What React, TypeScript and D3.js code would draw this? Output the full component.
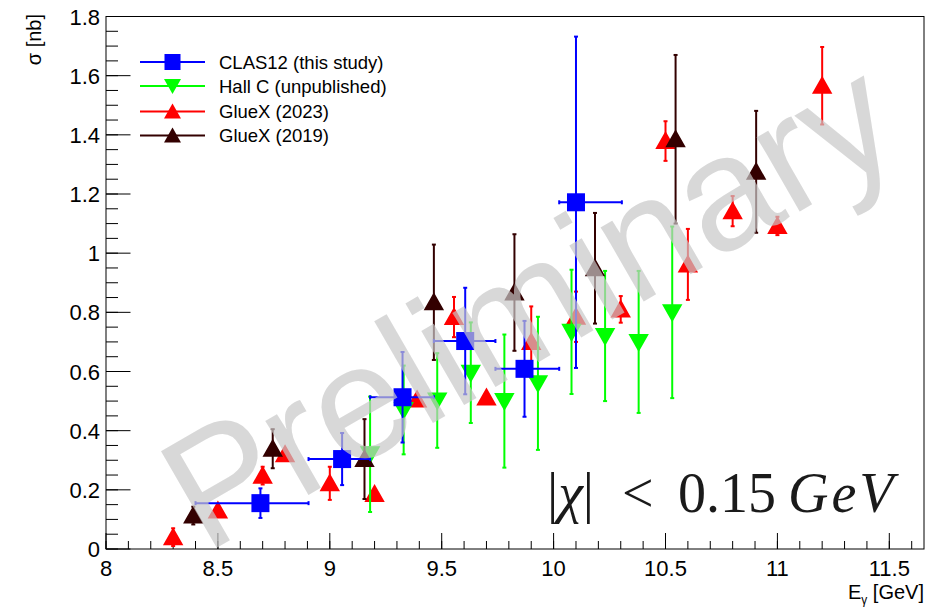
import React from "react";
import * as d3 from "d3";

// CLAS12 (this study) - bins with horizontal extent
const clasX = [8.69, 9.055, 9.325, 9.605, 9.87, 10.1];
const clasY = [0.155, 0.304, 0.513, 0.703, 0.609, 1.172];
const clasErr = [0.05, 0.088, 0.153, 0.18, 0.162, 0.56];
const clasXLo = [8.4, 8.905, 9.18, 9.465, 9.74, 10.025];
const clasXHi = [8.905, 9.18, 9.465, 9.74, 10.025, 10.305];

// Hall C (unpublished)
const hallCX = [9.18, 9.33, 9.48, 9.63, 9.78, 9.93, 10.08, 10.23, 10.38, 10.53];
const hallCY = [0.32, 0.47, 0.502, 0.596, 0.5, 0.56, 0.734, 0.72, 0.7, 0.8];
const hallCErr = [0.195, 0.15, 0.16, 0.17, 0.225, 0.225, 0.21, 0.22, 0.24, 0.29];

// GlueX (2023)
const gluex23X = [8.3, 8.5, 8.7, 8.8, 9.0, 9.2, 9.39, 9.555, 9.7, 9.9, 10.1, 10.3, 10.5, 10.6, 10.8, 11.0, 11.2];
const gluex23Y = [0.04, 0.13, 0.248, 0.32, 0.222, 0.186, 0.505, 0.784, 0.512, 0.7, 0.785, 0.81, 1.379, 0.962, 1.142, 1.092, 1.566];
const gluex23Err = [0.03, 0.0, 0.03, 0.0, 0.056, 0.0, 0.0, 0.068, 0.0, 0.12, 0.085, 0.045, 0.067, 0.12, 0.051, 0.031, 0.131];

// GlueX (2019)
const gluex19X = [8.39, 8.745, 9.155, 9.465, 9.825, 10.185, 10.545, 10.905];
const gluex19Y = [0.113, 0.339, 0.304, 0.834, 0.867, 0.949, 1.385, 1.275];
const gluex19Err = [0.03, 0.066, 0.135, 0.195, 0.197, 0.187, 0.285, 0.206];

const xTickLabels = ["8", "8.5", "9", "9.5", "10", "10.5", "11", "11.5"];
const yTickLabels = ["0", "0.2", "0.4", "0.6", "0.8", "1", "1.2", "1.4", "1.6", "1.8"];

const legendNames = ["CLAS12 (this study)", "Hall C (unpublished)", "GlueX (2023)", "GlueX (2019)"];

const BLUE = "#0000ff";
const GREEN = "#00ff00";
const RED = "#ff0000";
const BROWN = "#330000";
const FONT = "Liberation Sans, Arial, sans-serif";
const SERIF = "Liberation Serif, Times New Roman, serif";

const x = d3.scaleLinear().domain([8, 11.655]).range([106, 924]);
const y = d3.scaleLinear().domain([0, 1.8]).range([549, 16.5]);

const Marker = ({ kind, cx, cy, color }: { kind: string; cx: number; cy: number; color: string }) => {
  if (kind === "square") {
    return <rect x={cx - 8} y={cy - 8} width={16} height={16} fill={color} />;
  }
  const w = 8.5;
  const pts =
    kind === "up"
      ? [[cx - w, cy + 7], [cx + w, cy + 7], [cx, cy - 8]]
      : [[cx - w, cy - 7], [cx + w, cy - 7], [cx, cy + 8]];
  return <polygon points={pts.map((p) => p.join(",")).join(" ")} fill={color} />;
};

const ErrorSeries = ({
  xs, ys, errs, color, kind, xlo, xhi,
}: {
  xs: number[]; ys: number[]; errs: number[]; color: string; kind: string; xlo?: number[]; xhi?: number[];
}) => (
  <g>
    {xs.map((xv, i) => {
      const cx = x(xv);
      const cy = y(ys[i]);
      const top = y(ys[i] + errs[i]);
      const bot = y(ys[i] - errs[i]);
      return (
        <g key={i} stroke={color} strokeWidth={2}>
          {errs[i] > 0 && (
            <>
              <line x1={cx} x2={cx} y1={top} y2={bot} />
              <line x1={cx - 2} x2={cx + 2} y1={top} y2={top} />
              <line x1={cx - 2} x2={cx + 2} y1={bot} y2={bot} />
            </>
          )}
          {xlo && xhi && (
            <>
              <line x1={x(xlo[i])} x2={x(xhi[i])} y1={cy} y2={cy} />
              <line x1={x(xlo[i])} x2={x(xlo[i])} y1={cy - 2} y2={cy + 2} />
              <line x1={x(xhi[i])} x2={x(xhi[i])} y1={cy - 2} y2={cy + 2} />
            </>
          )}
          <Marker kind={kind} cx={cx} cy={cy} color={color} />
        </g>
      );
    })}
  </g>
);

export default function App() {
  const [x0, x1] = x.range();
  const [y0, y1] = y.range();
  const xMinor = d3.range(8, 11.66, 0.1);
  const yMinor = d3.range(0, 1.801, 0.05);
  const xMajor = xTickLabels.map(Number);
  const yMajor = yTickLabels.map(Number);
  const legendColors = [BLUE, GREEN, RED, BROWN];
  const legendKinds = ["square", "down", "up", "up"];
  const legendY = [62, 86, 111.5, 135.5];

  return (
    <svg
      width={935}
      height={608}
      style={{ position: "absolute", left: 0, top: 0, background: "#fff" }}
      fontFamily={FONT}
    >
      <rect width={935} height={608} fill="#fff" />

      {/* frame */}
      <rect x={x0} y={y1} width={x1 - x0} height={y0 - y1} fill="none" stroke="#000" strokeWidth={1} />

      {/* x ticks */}
      {xMinor.map((v, i) => (
        <line key={"xm" + i} x1={x(v)} x2={x(v)} y1={y0} y2={y0 - 8} stroke="#000" />
      ))}
      {xMajor.map((v, i) => (
        <line key={"xM" + i} x1={x(v)} x2={x(v)} y1={y0} y2={y0 - 16} stroke="#000" />
      ))}
      {xTickLabels.map((t, i) => (
        <text key={"xl" + i} x={x(xMajor[i])} y={576} fontSize={22} textAnchor="middle">
          {t}
        </text>
      ))}

      {/* y ticks */}
      {yMinor.map((v, i) => (
        <line key={"ym" + i} x1={x0} x2={x0 + 12} y1={y(v)} y2={y(v)} stroke="#000" />
      ))}
      {yMajor.map((v, i) => (
        <line key={"yM" + i} x1={x0} x2={x0 + 24.5} y1={y(v)} y2={y(v)} stroke="#000" />
      ))}
      {yTickLabels.map((t, i) => (
        <text key={"yl" + i} x={100} y={y(yMajor[i]) + 8} fontSize={22} textAnchor="end">
          {t}
        </text>
      ))}

      {/* axis titles */}
      <text transform="translate(41,14) rotate(-90)" fontSize={20} textAnchor="end">
        σ [nb]
      </text>
      <text x={924} y={599} fontSize={20} textAnchor="end">
        E<tspan fontSize={12} dy={5}>γ</tspan>
        <tspan dy={-5}> [GeV]</tspan>
      </text>

      {/* data */}
      <ErrorSeries xs={gluex23X} ys={gluex23Y} errs={gluex23Err} color={RED} kind="up" />
      <ErrorSeries xs={hallCX} ys={hallCY} errs={hallCErr} color={GREEN} kind="down" />
      <ErrorSeries xs={gluex19X} ys={gluex19Y} errs={gluex19Err} color={BROWN} kind="up" />
      <ErrorSeries xs={clasX} ys={clasY} errs={clasErr} color={BLUE} kind="square" xlo={clasXLo} xhi={clasXHi} />

      {/* legend */}
      {legendNames.map((name, i) => (
        <g key={"lg" + i}>
          <line x1={140} x2={205} y1={legendY[i]} y2={legendY[i]} stroke={legendColors[i]} strokeWidth={2} />
          <Marker kind={legendKinds[i]} cx={172.5} cy={legendY[i]} color={legendColors[i]} />
          <text x={219} y={legendY[i] + 6.5} fontSize={18.5}>
            {name}
          </text>
        </g>
      ))}

      {/* cut annotation */}
      <g fontFamily={SERIF} fontSize={56} fill="#1a1a1a">
        <text x={547} y={512}>
          |<tspan fontStyle="italic">χ</tspan>|
        </text>
        <text x={622} y={512}>&lt;</text>
        <text x={678} y={512}>0.15</text>
        <text x={788} y={512} fontStyle="italic" letterSpacing={3}>
          GeV
        </text>
      </g>

      {/* watermark */}
      <text
        transform="translate(556,352) rotate(-30)"
        fontSize={162}
        textAnchor="middle"
        fill="rgb(200,200,200)"
        fillOpacity={0.7}
      >
        Preliminary
      </text>
    </svg>
  );
}
